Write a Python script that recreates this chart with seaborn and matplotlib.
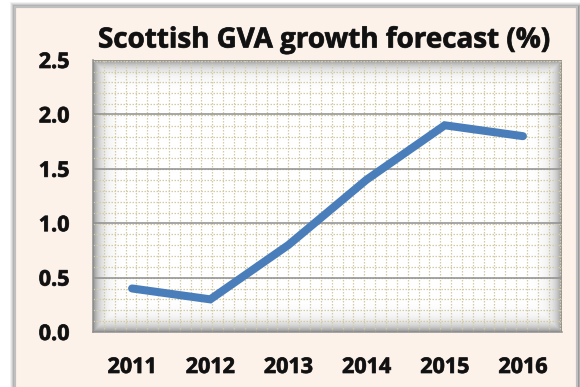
import numpy as np
import pandas as pd
import matplotlib
matplotlib.use("Agg")
import matplotlib.pyplot as plt
from matplotlib.patches import Rectangle
import matplotlib.patheffects as pe
import seaborn as sns

# Forecast data
years = ["2011", "2012", "2013", "2014", "2015", "2016"]
growth = [0.4, 0.3, 0.8, 1.4, 1.9, 1.8]
y_ticks = [0.0, 0.5, 1.0, 1.5, 2.0, 2.5]
title = "Scottish GVA growth forecast (%)"

df = pd.DataFrame({"year": years, "growth": growth})

sns.set_theme(style="white")
plt.rcParams["font.family"] = ["Open Sans", "DejaVu Sans"]

W, H = 580, 387
fig = plt.figure(figsize=(W / 100, H / 100), dpi=100)
fig.patch.set_facecolor("white")

# Panel with soft shadow
for i, a in enumerate([0.05, 0.07, 0.09, 0.12, 0.16]):
    off = (5 - i)
    fig.patches.append(Rectangle(((15 - off) / W, -0.1), (563 + 2 * off) / W, 1.1 - (7 - off) / H,
                                 transform=fig.transFigure, facecolor="black", alpha=a,
                                 edgecolor="none", zorder=-10))
fig.patches.append(Rectangle((15 / W, -0.1), 562 / W, 1.1 - 7 / H, transform=fig.transFigure,
                             facecolor="#FDF2EA", edgecolor="#BFBFBF", linewidth=1.6, zorder=-9))

ax = fig.add_axes([93 / W, 1 - 332 / H, (562 - 93) / W, (332 - 60) / H])
ax.set_facecolor("white")

# Plot area fill with an inner shadow
pw, ph = 469, 272
xx = np.arange(pw)[None, :]
yy = np.arange(ph)[:, None]
d = np.minimum(np.minimum(xx, pw - 1 - xx), np.minimum(yy, ph - 1 - yy)).astype(float)
shade = 1 - 0.42 * np.exp(-d / 7.0)
ax.imshow(shade, cmap="gray", vmin=0, vmax=1, extent=(0, 1, 0, 1), transform=ax.transAxes,
          aspect="auto", zorder=0, interpolation="bilinear")

# Dotted pattern grid
step_px = 10.85
xs = np.arange(step_px, pw, step_px) / pw
ys = np.arange(step_px, ph, step_px) / ph
ax.vlines(xs, 0, 1, transform=ax.transAxes, colors="#D2CBA6", linestyles=(0, (1.2, 1.2)),
          linewidth=0.9, zorder=1)
ax.hlines(ys, 0, 1, transform=ax.transAxes, colors="#D2CBA6", linestyles=(0, (1.2, 1.2)),
          linewidth=0.9, zorder=1)

# Major gridlines
for v in y_ticks[1:-1]:
    ax.axhline(v, color="#8E8E8E", linewidth=1.1, zorder=2)

sns.lineplot(data=df, x="year", y="growth", ax=ax, color="#4A7EBB", linewidth=5.8,
             solid_capstyle="round", solid_joinstyle="miter", zorder=3)

ax.set_xlim(-0.5, len(years) - 0.5)
ax.set_ylim(0, 2.5)
ax.set_yticks(y_ticks)
ax.set_yticklabels([f"{v:.1f}" for v in y_ticks])
ax.set_xticks(range(len(years)))
ax.set_xticklabels(years)
ax.set_xticks(np.arange(-0.5, len(years), 1.0), minor=True)
ax.tick_params(axis="x", which="major", length=0, pad=18)
ax.tick_params(axis="x", which="minor", length=6, width=1, color="#8E8E8E", direction="out")
ax.tick_params(axis="y", which="major", length=6, width=1, color="#8E8E8E", direction="out", pad=11)
ax.tick_params(axis="y", which="minor", length=0)
halo = [pe.withStroke(linewidth=0.6, foreground="#333333")]
for lab in ax.get_xticklabels() + ax.get_yticklabels():
    lab.set_fontweight("bold")
    lab.set_fontsize(15.5)
    lab.set_color("#111111")
    lab.set_path_effects(halo)
ax.set_xlabel("")
ax.set_ylabel("")

for s in ["top", "right"]:
    ax.spines[s].set_visible(False)
for s in ["left", "bottom"]:
    ax.spines[s].set_color("#8E8E8E")
    ax.spines[s].set_linewidth(1.1)

fig.text(324 / W, 1 - 40 / H, title, ha="center", va="center", fontsize=20,
         fontweight="bold", color="#111111", path_effects=halo)

fig.savefig("out.png", dpi=100, facecolor=fig.get_facecolor())
